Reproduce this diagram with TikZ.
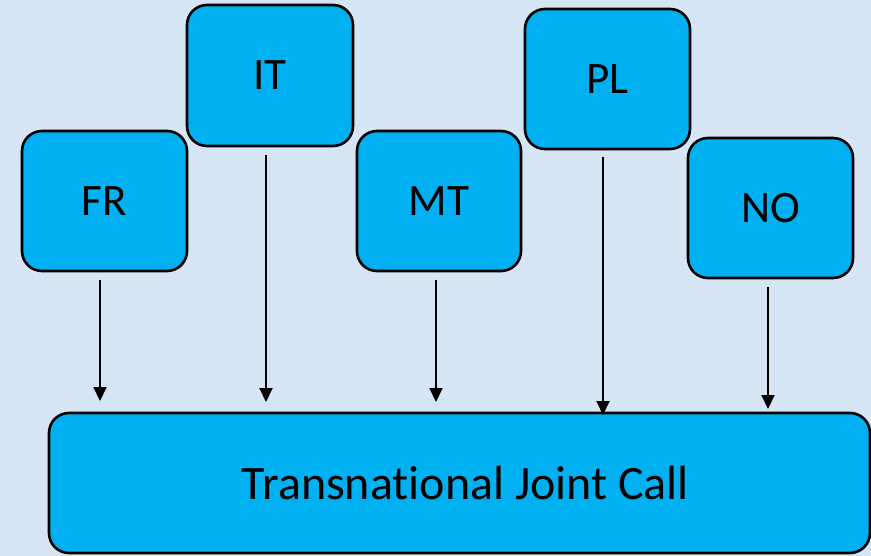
\documentclass[tikz,border=0pt]{standalone}
\usepackage{fontspec}
\setmainfont[Ligatures={NoCommon}]{Carlito}
\usetikzlibrary{arrows.meta}
\definecolor{bg}{HTML}{D5E5F4}
\definecolor{boxc}{HTML}{00B0F0}
\tikzset{
  cbox/.style={draw=black, line width=2.6pt, fill=boxc, rounded corners=20pt, font=\fontsize{45}{50}\selectfont},
  conn/.style={line width=2pt, -{Triangle[length=14pt,width=13pt]}}
}
\begin{document}
\begin{tikzpicture}[x=1pt,y=-1pt]
\fill[bg] (0,0) rectangle (871,556);
\useasboundingbox (0,0) rectangle (871,556);
\node[cbox, minimum width=165pt, minimum height=140pt] (fr) at (104.5,201) {FR};
\node[cbox, minimum width=166pt, minimum height=141pt] (it) at (270,75.5) {IT};
\node[cbox, minimum width=164pt, minimum height=140pt] (mt) at (439,201) {MT};
\node[cbox, minimum width=165pt, minimum height=140pt] (pl) at (607.5,79) {PL};
\node[cbox, minimum width=165pt, minimum height=140pt] (no) at (770.5,208) {NO};
\node[cbox, minimum width=821pt, minimum height=140pt, font=\fontsize{48}{54}\selectfont] (jc) at (459.5,483) {\hspace*{12pt}Transnat\kern0pt ional Joint Call};
\coordinate (fra) at (100,280); \coordinate (frb) at (100,401);
\coordinate (ita) at (266,155); \coordinate (itb) at (266,402);
\coordinate (mta) at (436,280); \coordinate (mtb) at (436,402);
\coordinate (pla) at (603,157); \coordinate (plb) at (603,415);
\coordinate (noa) at (768,287); \coordinate (nob) at (768,409);
\draw[conn] (fra) -- (frb);
\draw[conn] (ita) -- (itb);
\draw[conn] (mta) -- (mtb);
\draw[conn] (pla) -- (plb);
\draw[conn] (noa) -- (nob);
\end{tikzpicture}
\end{document}
